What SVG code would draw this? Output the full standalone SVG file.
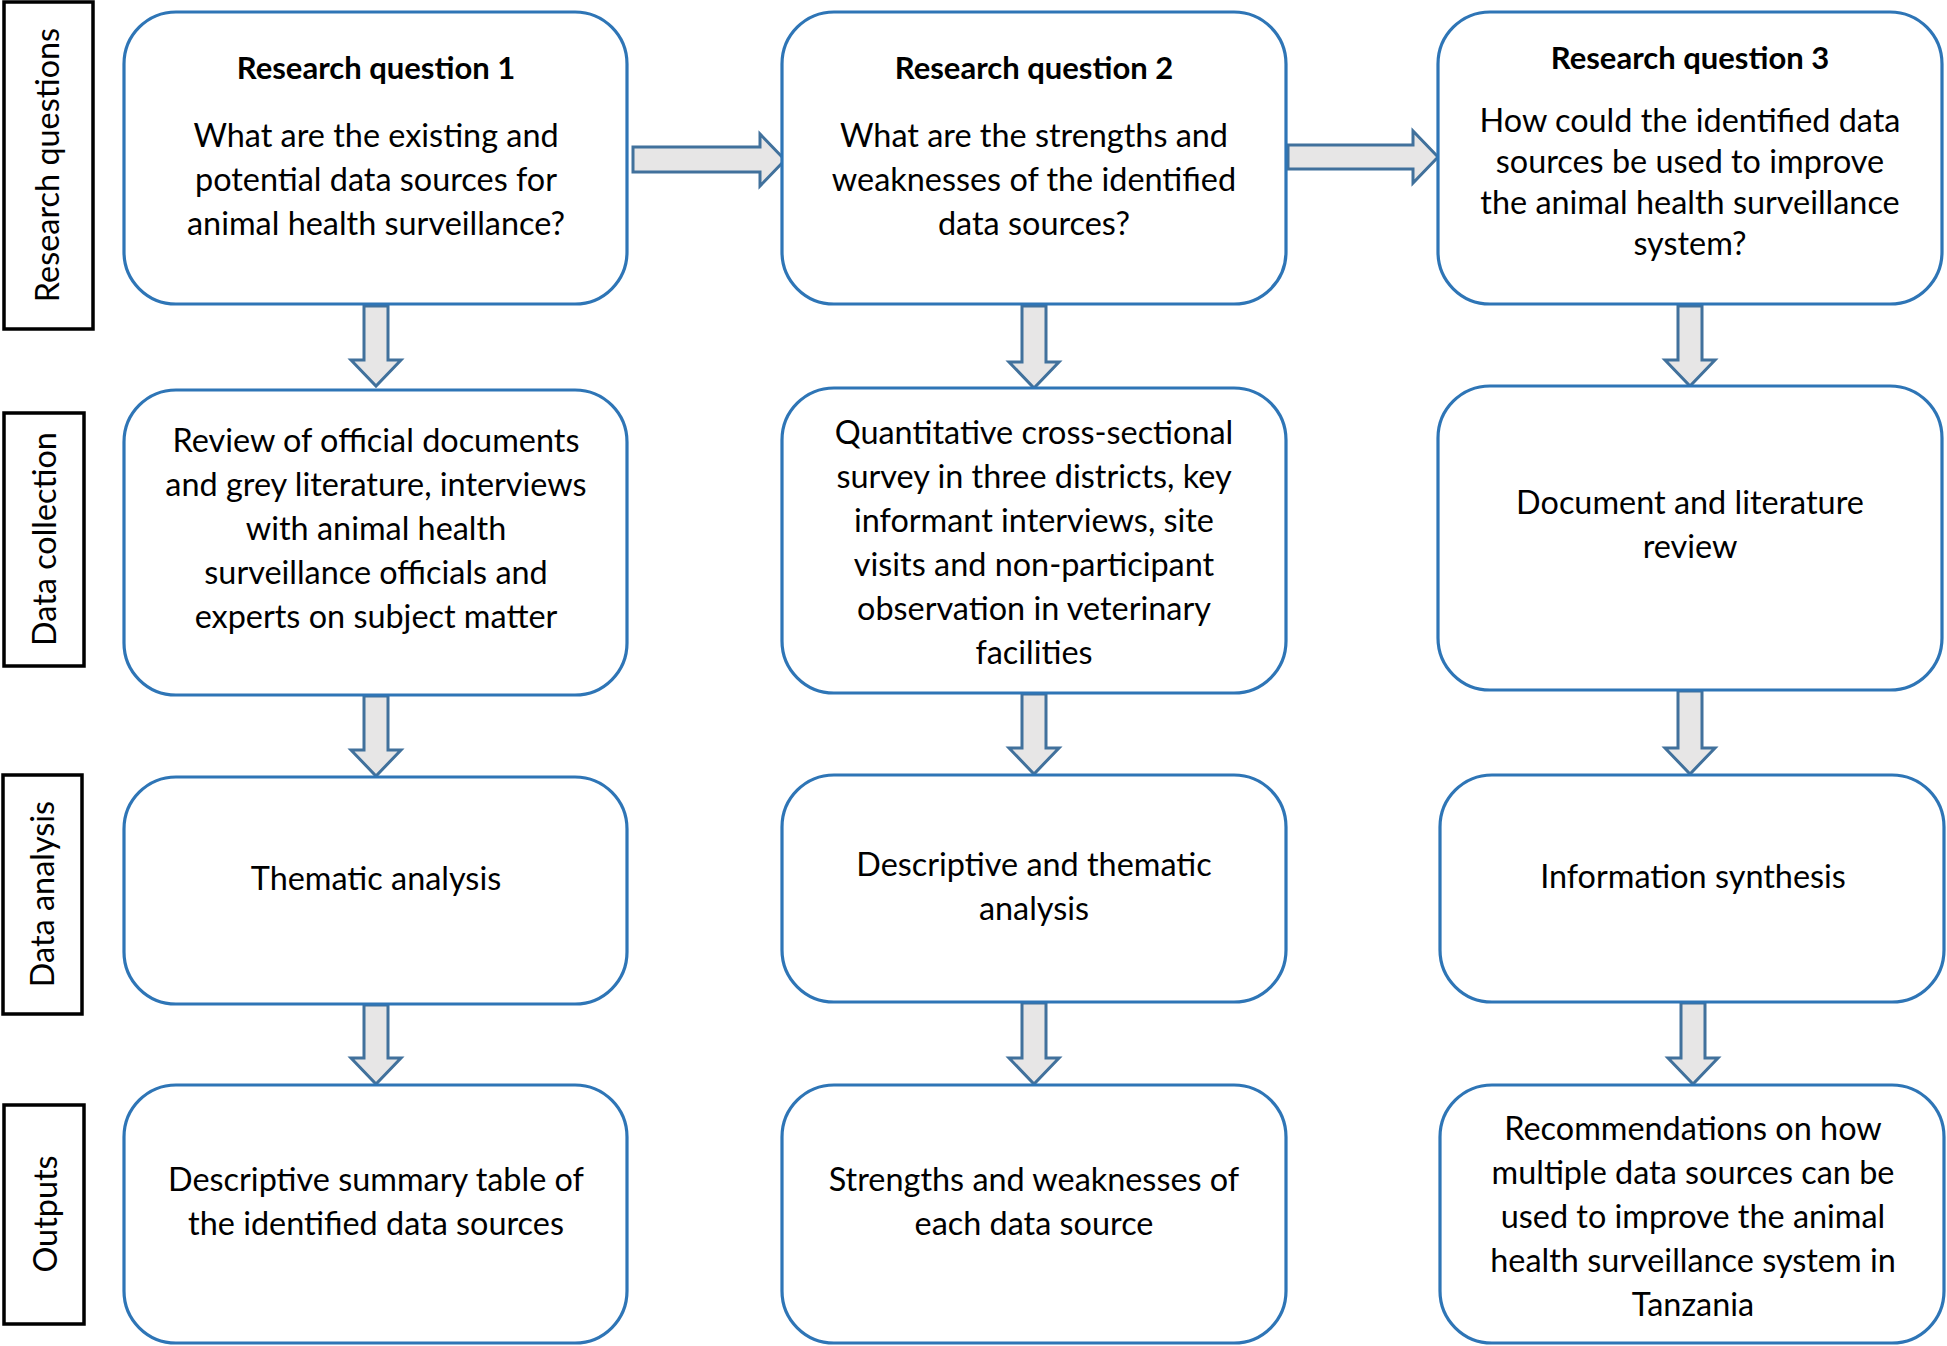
<svg xmlns="http://www.w3.org/2000/svg" width="1947" height="1346" viewBox="0 0 1947 1346">
<style>
.box{fill:#fff;stroke:#2E75B6;stroke-width:3.2}
.lab{fill:#fff;stroke:#000;stroke-width:3.5}
.arr{fill:#E7E6E6;stroke:#41719C;stroke-width:3;stroke-linejoin:miter}
text{font-family:Lato,"Open Sans","Liberation Sans",sans-serif;font-size:32.4px;fill:#000;text-anchor:middle}
.b{font-weight:bold;font-size:31px}
</style>
<rect width="1947" height="1346" fill="#fff"/>
<g id="labels">
<g id="lab-rq"><rect class="lab" x="4" y="2" width="89" height="327"/><text transform="translate(59 165) rotate(-90)">Research questions</text></g>
<g id="lab-dc"><rect class="lab" x="4" y="413" width="80" height="253"/><text transform="translate(56 539) rotate(-90)">Data collection</text></g>
<g id="lab-da"><rect class="lab" x="3" y="775" width="79" height="239"/><text transform="translate(54 894) rotate(-90)">Data analysis</text></g>
<g id="lab-out"><rect class="lab" x="4" y="1105" width="80" height="219"/><text transform="translate(57 1214) rotate(-90)">Outputs</text></g>
</g>
<g id="connectors">
<path class="arr" d="M633 147H760V134L785 160L760 186V172H633Z"/>
<path class="arr" d="M1288 145H1413V131L1438 157L1413 183V169H1288Z"/>
<path class="arr" d="M364 306V360H351L376 386L401 360H388V306Z"/>
<path class="arr" d="M364 696V750H351L376 776L401 750H388V696Z"/>
<path class="arr" d="M364 1005V1058H351L376 1084L401 1058H388V1005Z"/>
<path class="arr" d="M1022 306V362H1009L1034 388L1059 362H1046V306Z"/>
<path class="arr" d="M1022 694V748H1009L1034 774L1059 748H1046V694Z"/>
<path class="arr" d="M1022 1003V1058H1009L1034 1084L1059 1058H1046V1003Z"/>
<path class="arr" d="M1678 306V360H1665L1690 386L1715 360H1702V306Z"/>
<path class="arr" d="M1678 691V748H1665L1690 774L1715 748H1702V691Z"/>
<path class="arr" d="M1681 1003V1058H1668L1693 1084L1718 1058H1705V1003Z"/>
</g>
<g id="rq1"><rect class="box" x="124" y="12" width="503" height="292" rx="52"/>
<text class="b" x="376" y="79">Research question 1</text>
<text x="376" y="147">What are the existing and</text>
<text x="376" y="191">potential data sources for</text>
<text x="376" y="235">animal health surveillance?</text></g>
<g id="rq2"><rect class="box" x="782" y="12" width="504" height="292" rx="52"/>
<text class="b" x="1034" y="79">Research question 2</text>
<text x="1034" y="147">What are the strengths and</text>
<text x="1034" y="191">weaknesses of the identified</text>
<text x="1034" y="235">data sources?</text></g>
<g id="rq3"><rect class="box" x="1438" y="12" width="504" height="292" rx="52"/>
<text class="b" x="1690" y="69">Research question 3</text>
<text x="1690" y="132">How could the identified data</text>
<text x="1690" y="173">sources be used to improve</text>
<text x="1690" y="214">the animal health surveillance</text>
<text x="1690" y="255">system?</text></g>
<g id="dc1"><rect class="box" x="124" y="390" width="503" height="305" rx="52"/>
<text x="376" y="452">Review of official documents</text>
<text x="376" y="496">and grey literature, interviews</text>
<text x="376" y="540">with animal health</text>
<text x="376" y="584">surveillance officials and</text>
<text x="376" y="628">experts on subject matter</text></g>
<g id="dc2"><rect class="box" x="782" y="388" width="504" height="305" rx="52"/>
<text x="1034" y="444">Quantitative cross-sectional</text>
<text x="1034" y="488">survey in three districts, key</text>
<text x="1034" y="532">informant interviews, site</text>
<text x="1034" y="576">visits and non-participant</text>
<text x="1034" y="620">observation in veterinary</text>
<text x="1034" y="664">facilities</text></g>
<g id="dc3"><rect class="box" x="1438" y="386" width="504" height="304" rx="52"/>
<text x="1690" y="514">Document and literature</text>
<text x="1690" y="558">review</text></g>
<g id="da1"><rect class="box" x="124" y="777" width="503" height="227" rx="52"/>
<text x="376" y="890">Thematic analysis</text></g>
<g id="da2"><rect class="box" x="782" y="775" width="504" height="227" rx="52"/>
<text x="1034" y="876">Descriptive and thematic</text>
<text x="1034" y="920">analysis</text></g>
<g id="da3"><rect class="box" x="1440" y="775" width="504" height="227" rx="52"/>
<text x="1693" y="888">Information synthesis</text></g>
<g id="out1"><rect class="box" x="124" y="1085" width="503" height="258" rx="52"/>
<text x="376" y="1191">Descriptive summary table of</text>
<text x="376" y="1235">the identified data sources</text></g>
<g id="out2"><rect class="box" x="782" y="1085" width="504" height="258" rx="52"/>
<text x="1034" y="1191">Strengths and weaknesses of</text>
<text x="1034" y="1235">each data source</text></g>
<g id="out3"><rect class="box" x="1440" y="1085" width="504" height="258" rx="52"/>
<text x="1693" y="1140">Recommendations on how</text>
<text x="1693" y="1184">multiple data sources can be</text>
<text x="1693" y="1228">used to improve the animal</text>
<text x="1693" y="1272">health surveillance system in</text>
<text x="1693" y="1316">Tanzania</text></g>
</svg>
